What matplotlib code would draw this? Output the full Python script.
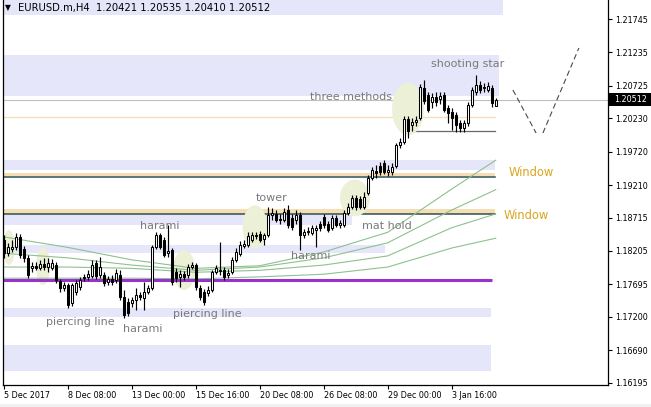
import matplotlib
matplotlib.use("Agg")
import matplotlib.pyplot as plt
from matplotlib.patches import Ellipse, Rectangle
import numpy as np

# ---------------- data ----------------
symbol = "EURUSD.m,H4"

opens = [
    1.1837, 1.1817, 1.1823, 1.1826, 1.1842, 1.1823, 1.1810, 1.1794, 1.1798, 1.1794,
    1.1801, 1.1796, 1.1794, 1.1799, 1.1775, 1.1764, 1.1769, 1.1741, 1.1758, 1.1766,
    1.1779, 1.1781, 1.1782, 1.1802, 1.1784, 1.1784, 1.1773, 1.1778, 1.1776, 1.1784,
    1.1750, 1.1743, 1.1741, 1.1746, 1.1754, 1.1749, 1.1758, 1.1764, 1.1826, 1.1845,
    1.1837, 1.1817, 1.1822, 1.1788, 1.1781, 1.1785, 1.1784, 1.1796, 1.1799, 1.1764,
    1.1758, 1.1757, 1.1761, 1.1788, 1.1790, 1.1791, 1.1784, 1.1788, 1.1807, 1.1816,
    1.1828, 1.1830, 1.1837, 1.1843, 1.1846, 1.1839, 1.1845, 1.1875, 1.1877, 1.1868,
    1.1868, 1.1883, 1.1871, 1.1868, 1.1875, 1.1845, 1.1849, 1.1848, 1.1853, 1.1862,
    1.1872, 1.1862, 1.1856, 1.1871, 1.1860, 1.1860, 1.1878, 1.1888, 1.1902, 1.1900,
    1.1888, 1.1909, 1.1932, 1.1943, 1.1950, 1.1955, 1.1941, 1.1941, 1.1950, 1.1982,
    1.1987, 1.2022, 1.2013, 1.2017, 1.2023, 1.2069, 1.2059, 1.2048, 1.2056, 1.2052,
    1.2059, 1.2039, 1.2033, 1.2028, 1.2016, 1.2008, 1.2016, 1.2043, 1.2063, 1.2074,
    1.2069, 1.2066, 1.2069, 1.20421]

highs = [
    1.1845, 1.1833, 1.1837, 1.1848, 1.1846, 1.1828, 1.1814, 1.1804, 1.1804, 1.1807,
    1.1810, 1.1810, 1.1808, 1.1804, 1.1778, 1.1773, 1.1772, 1.1772, 1.1776, 1.1781,
    1.1785, 1.1791, 1.1807, 1.1807, 1.1811, 1.1788, 1.1782, 1.1784, 1.1793, 1.1791,
    1.1761, 1.1749, 1.1750, 1.1764, 1.1758, 1.1773, 1.1769, 1.1830, 1.1849, 1.1848,
    1.1842, 1.1860, 1.1825, 1.1794, 1.1791, 1.1790, 1.1801, 1.1804, 1.1802, 1.1769,
    1.1763, 1.1767, 1.1791, 1.1799, 1.1834, 1.1796, 1.1793, 1.1811, 1.1825, 1.1836,
    1.1837, 1.1849, 1.1849, 1.1849, 1.1851, 1.1848, 1.1888, 1.1886, 1.1883, 1.1877,
    1.1886, 1.1891, 1.1877, 1.1883, 1.1880, 1.1854, 1.1857, 1.1860, 1.1860, 1.1866,
    1.1877, 1.1866, 1.1875, 1.1875, 1.1868, 1.1883, 1.1894, 1.1906, 1.1906, 1.1905,
    1.1911, 1.1937, 1.1949, 1.1952, 1.1956, 1.1959, 1.1952, 1.1955, 1.1985, 1.1993,
    1.2027, 1.2027, 1.2023, 1.2027, 1.2075, 1.2081, 1.2063, 1.2062, 1.2063, 1.2063,
    1.2063, 1.2043, 1.2039, 1.2033, 1.2020, 1.2020, 1.2048, 1.2071, 1.2089, 1.2080,
    1.2077, 1.2078, 1.2074, 1.20535]

lows = [
    1.1810, 1.1813, 1.1819, 1.1822, 1.1810, 1.1804, 1.1779, 1.1788, 1.1791, 1.1791,
    1.1791, 1.1788, 1.1791, 1.1772, 1.1758, 1.1760, 1.1734, 1.1737, 1.1754, 1.1761,
    1.1775, 1.1776, 1.1779, 1.1778, 1.1779, 1.1767, 1.1769, 1.1769, 1.1772, 1.1746,
    1.1718, 1.1721, 1.1735, 1.1730, 1.1746, 1.1730, 1.1755, 1.1761, 1.1823, 1.1823,
    1.1811, 1.1811, 1.1769, 1.1773, 1.1766, 1.1776, 1.1779, 1.1793, 1.1761, 1.1746,
    1.1738, 1.1752, 1.1758, 1.1785, 1.1784, 1.1776, 1.1779, 1.1785, 1.1804, 1.1813,
    1.1825, 1.1826, 1.1834, 1.1839, 1.1834, 1.1830, 1.1842, 1.1868, 1.1865, 1.1862,
    1.1865, 1.1856, 1.1853, 1.1862, 1.1822, 1.1840, 1.1845, 1.1845, 1.1826, 1.1851,
    1.1856, 1.1849, 1.1853, 1.1857, 1.1856, 1.1857, 1.1875, 1.1885, 1.1883, 1.1885,
    1.1885, 1.1906, 1.1929, 1.1932, 1.1937, 1.1938, 1.1935, 1.1937, 1.1947, 1.1978,
    1.1984, 1.1993, 1.2004, 1.2011, 1.2020, 1.2045, 1.2033, 1.2039, 1.2042, 1.2045,
    1.2033, 1.2016, 1.2005, 1.2002, 1.2002, 1.2002, 1.2011, 1.2040, 1.2059, 1.2062,
    1.2063, 1.2063, 1.2040, 1.20410]

closes = [
    1.1817, 1.1826, 1.1826, 1.1842, 1.1814, 1.1810, 1.1784, 1.1798, 1.1794, 1.1801,
    1.1796, 1.1802, 1.1802, 1.1776, 1.1764, 1.1769, 1.1738, 1.1769, 1.1772, 1.1776,
    1.1781, 1.1785, 1.1799, 1.1782, 1.1796, 1.1772, 1.1778, 1.1773, 1.1787, 1.1750,
    1.1723, 1.1726, 1.1746, 1.1754, 1.1750, 1.1758, 1.1764, 1.1826, 1.1845, 1.1826,
    1.1814, 1.1820, 1.1773, 1.1779, 1.1785, 1.1781, 1.1796, 1.1799, 1.1766, 1.1750,
    1.1743, 1.1761, 1.1788, 1.1794, 1.1791, 1.1781, 1.1787, 1.1807, 1.1819, 1.1830,
    1.1831, 1.1843, 1.1845, 1.1845, 1.1837, 1.1845, 1.1875, 1.1878, 1.1868, 1.1869,
    1.1880, 1.1860, 1.1857, 1.1875, 1.1845, 1.1849, 1.1851, 1.1856, 1.1856, 1.1856,
    1.1860, 1.1853, 1.1871, 1.1860, 1.1863, 1.1878, 1.1888, 1.1902, 1.1888, 1.1888,
    1.1903, 1.1932, 1.1944, 1.1940, 1.1941, 1.1941, 1.1944, 1.1949, 1.1982, 1.1987,
    1.2022, 1.2004, 1.2017, 1.2020, 1.2071, 1.2049, 1.2036, 1.2056, 1.2048, 1.2057,
    1.2036, 1.2031, 1.2023, 1.2013, 1.2008, 1.2016, 1.2043, 1.2066, 1.2074, 1.2066,
    1.2071, 1.2072, 1.2046, 1.20512]

x_tick_bars = [0, 16, 32, 48, 64, 80, 96, 112]
x_tick_labels = ["5 Dec 2017", "8 Dec 08:00", "13 Dec 00:00", "15 Dec 16:00",
                 "20 Dec 08:00", "26 Dec 08:00", "29 Dec 00:00", "3 Jan 16:00"]
y_ticks = [1.21745, 1.21235, 1.20725, 1.20230, 1.19720, 1.19210,
           1.18715, 1.18205, 1.17695, 1.17200, 1.16690, 1.16195]

# moving averages (read at sample bars)
ma_bars = [0, 16, 32, 48, 64, 80, 96, 112, 123]
ma_a = [1.1842, 1.1826, 1.1807, 1.1794, 1.1798, 1.1819, 1.1849, 1.1915, 1.1959]
ma_b = [1.1817, 1.1810, 1.1799, 1.1791, 1.1796, 1.1810, 1.1833, 1.1883, 1.1914]
ma_c = [1.1796, 1.1796, 1.1794, 1.1788, 1.1791, 1.1799, 1.1813, 1.1856, 1.1877]
ma_d = [1.1779, 1.1779, 1.1779, 1.1778, 1.1781, 1.1785, 1.1796, 1.1825, 1.1840]

# lavender zones: low, high, last bar reached
zone_lo = [1.2181, 1.2057, 1.1944, 1.1860, 1.1817, 1.1720, 1.1637]
zone_hi = [1.2300, 1.2120, 1.1959, 1.1877, 1.1830, 1.1734, 1.1677]
zone_end = [124.8, 123.8, 122.8, 87.0, 95.3, 121.8, 121.8]

# windows (gaps): wheat band low/high and dark edge line
window_lo = [1.1935, 1.1877]
window_hi = [1.1940, 1.1885]
window_edge = [1.1934, 1.1877]
thin_level = 1.2025
support_level = 1.2003
support_start = 100.8
purple_level = 1.1776

# pattern highlight ellipses: bar, price, width (bars), height (price)
hl_bar = [1.3, 9.8, 45.1, 62.8, 87.8, 101.1]
hl_price = [1.18258, 1.17976, 1.17915, 1.18571, 1.19014, 1.20372]
hl_w = [3.0, 3.5, 5.5, 6.2, 7.5, 8.0]
hl_h = [0.0053, 0.0058, 0.0061, 0.0066, 0.0056, 0.0080]

pattern_names = ["three methods", "shooting star", "tower", "mat hold", "harami",
                 "harami", "harami", "piercing line", "piercing line"]
pattern_bars = [86.8, 116.1, 67.1, 95.8, 39.1, 76.8, 34.8, 19.1, 50.8]
pattern_prices = [1.2055, 1.2106, 1.1901, 1.1859, 1.1859, 1.1813, 1.1701, 1.1712, 1.1725]

window_label_bars = [131.8, 130.7]
window_label_prices = [1.1940, 1.1875]

forecast_a_bars = [127.3, 133.1]
forecast_a_prices = [1.20662, 1.20005]
forecast_b_bars = [134.8, 143.8]
forecast_b_prices = [1.20005, 1.21303]

# ---------------- figure ----------------
W, H = 651, 407
fig = plt.figure(figsize=(W / 100, H / 100), dpi=100)
fig.patch.set_facecolor("white")
ax = fig.add_axes([3 / W, (H - 385) / H, (608 - 3) / W, 385 / H])
ax.set_facecolor("white")
ax.set_xlim(-0.175, 151.075)
ax.set_ylim(1.16160, 1.22035)

x = np.arange(len(closes))
xmin = -0.175

# zones
for lo, hi, end in zip(zone_lo, zone_hi, zone_end):
    ax.add_patch(Rectangle((xmin - 1, lo), end - xmin + 1, hi - lo,
                           facecolor="#e6e6fa", edgecolor="none", zorder=0))
for lo, hi, edge in zip(window_lo, window_hi, window_edge):
    ax.add_patch(Rectangle((xmin - 1, lo), 122.8 - xmin + 1, hi - lo,
                           facecolor="#f5deb3", edgecolor="none", zorder=0.5))
    ax.plot([xmin - 1, 122.8], [edge, edge], color="#2f4f4f", lw=1.1, zorder=1)
ax.plot([xmin - 1, 122.8], [thin_level, thin_level], color="#f5deb3", lw=0.9, zorder=1)
ax.axhline(closes[-1], color="#c0c0c0", lw=0.8, zorder=1)
ax.plot([support_start, 122.8], [support_level, support_level], color="#696969", lw=0.9, zorder=1)

# highlight ellipses
for b, p, w, h in zip(hl_bar, hl_price, hl_w, hl_h):
    ax.add_patch(Ellipse((b, p), w, h, facecolor="#ecf0d6", edgecolor="none", zorder=1.2))

# moving averages
for ma in (ma_a, ma_b, ma_c, ma_d):
    ax.plot(ma_bars, ma, color="#8fc08f", lw=0.8, zorder=2)

# purple level
ax.plot([xmin - 1, 122.0], [purple_level, purple_level], color="#9932cc", lw=2.2,
        zorder=2.5, solid_capstyle="butt")

# candles
o = np.array(opens); c = np.array(closes); hi_ = np.array(highs); lo_ = np.array(lows)
ax.vlines(x, lo_, hi_, color="black", lw=0.85, zorder=3)
up = c >= o
body = np.where(np.abs(c - o) < 0.00003, 0.00003, c - o)
ax.bar(x[up], body[up], bottom=o[up], width=0.5, facecolor="white",
       edgecolor="black", linewidth=0.75, zorder=4)
ax.bar(x[~up], body[~up], bottom=o[~up], width=0.5, facecolor="black",
       edgecolor="black", linewidth=0.75, zorder=4)

# forecast dashed lines
for xs, ys in ((forecast_a_bars, forecast_a_prices), (forecast_b_bars, forecast_b_prices)):
    ax.plot(xs, ys, color="#4a4a4a", lw=0.8, linestyle=(0, (5, 3)), zorder=3)

# pattern labels
for name, b, p in zip(pattern_names, pattern_bars, pattern_prices):
    ax.text(b, p, name, fontsize=8, color="#7a7a7a", ha="center", va="center",
            family="DejaVu Sans", zorder=6)
for b, p in zip(window_label_bars, window_label_prices):
    ax.text(b, p, "Window", fontsize=8.3, color="#daa520", ha="center", va="center",
            family="DejaVu Sans", zorder=6)

# axes styling
ax.spines["top"].set_visible(False)
for s in ("left", "right", "bottom"):
    ax.spines[s].set_linewidth(0.9)
    ax.spines[s].set_color("black")
ax.yaxis.tick_right()
ax.set_yticks(y_ticks)
ax.set_yticklabels([f"{v:.5f}" for v in y_ticks])
ax.tick_params(axis="y", direction="out", length=3, width=0.8, pad=2, labelsize=5.8)
ax.set_xticks(x_tick_bars)
ax.set_xticklabels(x_tick_labels)
ax.tick_params(axis="x", direction="out", length=3, width=0.8, pad=1.5, labelsize=5.8)
for lab in ax.get_xticklabels():
    lab.set_horizontalalignment("left")

# header
fig.text(5 / W, 1 - 8 / H, "\u25bc", fontsize=5.5, va="center", ha="left", color="black")
fig.text(18 / W, 1 - 8 / H,
         f"{symbol}  {opens[-1]:.5f} {highs[-1]:.5f} {lows[-1]:.5f} {closes[-1]:.5f}",
         fontsize=7.2, va="center", ha="left", color="black")

# current price label on the axis
fig.canvas.draw()
ypix = ax.transData.transform((0, closes[-1]))[1]
yf = ypix / H
fig.patches.append(Rectangle((609 / W, yf - 6.5 / H), 42 / W, 13 / H,
                             transform=fig.transFigure, facecolor="black",
                             edgecolor="none", figure=fig, zorder=5))
fig.text(614 / W, yf, f"{closes[-1]:.5f}", fontsize=5.8, color="white",
         va="center", ha="left", zorder=6)

# bottom gray strip
fig.patches.append(Rectangle((0, 0), 1, 3 / H, transform=fig.transFigure,
                             facecolor="#f0f0f0", edgecolor="none", figure=fig, zorder=0))

fig.savefig("out.png", dpi=100)
